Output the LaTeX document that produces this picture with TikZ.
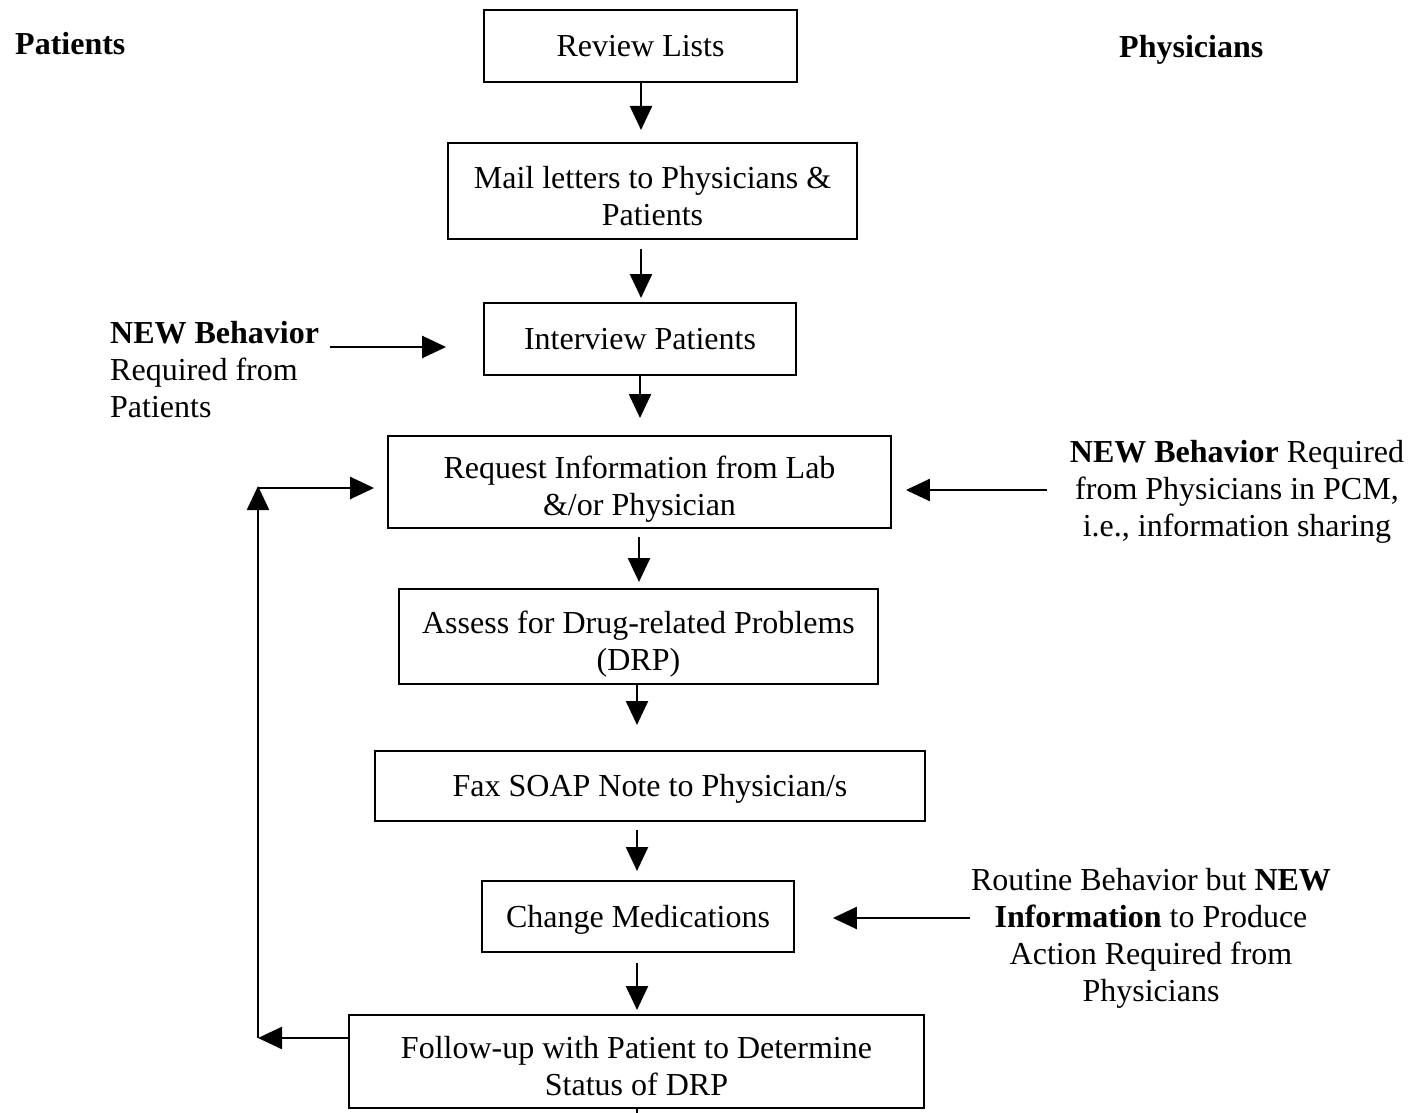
\documentclass[tikz,border=0pt]{standalone}
\usepackage{fontspec}
\setmainfont{Liberation Serif}
\usetikzlibrary{arrows.meta}
\begin{document}
\begin{tikzpicture}[x=1pt,y=-1pt,
  box/.style={draw, line width=1.8pt, inner sep=0pt},
  txt/.style={align=center, inner sep=0pt, font=\fontsize{32}{37}\selectfont},
  lbl/.style={inner sep=0pt, font=\fontsize{32}{37}\selectfont},
  arr/.style={line width=2.4pt, -{Triangle[length=24pt,width=22pt]}},
  ln/.style={line width=2.4pt}]
\useasboundingbox (0,0) rectangle (1414,1113);
% boxes
\node[box, minimum width=313pt, minimum height=72pt] (b1) at (640.5,46) {};
\node[box, minimum width=409pt, minimum height=96pt] (b2) at (652.5,191) {};
\node[box, minimum width=312pt, minimum height=72pt] (b3) at (640,339) {};
\node[box, minimum width=503pt, minimum height=92pt] (b4) at (639.5,482) {};
\node[box, minimum width=479pt, minimum height=95pt] (b5) at (638.5,636.5) {};
\node[box, minimum width=550pt, minimum height=70pt] (b6) at (650,786) {};
\node[box, minimum width=312pt, minimum height=71pt] (b7) at (638,916.5) {};
\node[box, minimum width=575pt, minimum height=93pt] (b8) at (636.5,1061.5) {};
% box texts
\node[txt] (t1) at ([yshift=0pt]b1.center) {Review Lists};
\node[txt] (t2) at ([yshift=-5pt]b2.center) {Mail letters to Physicians \&\\Patients};
\node[txt] (t3) at ([yshift=0pt]b3.center) {Interview Patients};
\node[txt] (t4) at ([yshift=-7pt]b4.center) {Request Information from Lab\\\&/or Physician};
\node[txt] (t5) at ([yshift=-8pt]b5.center) {Assess for Drug-related Problems\\(DRP)};
\node[txt] (t6) at ([yshift=-3pt]b6.center) {Fax SOAP Note to Physician/s};
\node[txt] (t7) at ([yshift=-3pt]b7.center) {Change Medications};
\node[txt] (t8) at ([yshift=-5pt]b8.center) {Follow-up with Patient to Determine\\Status of DRP};
% titles
\node[lbl, anchor=west, font=\fontsize{32}{37}\selectfont\bfseries] (tpat) at (15,44) {Patients};
\node[lbl, anchor=west, font=\fontsize{32}{37}\selectfont\bfseries] (tphy) at (1119,50) {Physicians};
% side labels
\node[lbl, anchor=north west, align=left] (lpat) at (110,321) {\textbf{NEW Behavior}\\Required from\\Patients};
\node[lbl, align=center] (lphy) at (1237,492) {\textbf{NEW Behavior} Required\\from Physicians in PCM,\\i.e., information sharing};
\node[lbl, align=center] (lrout) at (1151,938) {Routine Behavior but \textbf{NEW}\\\textbf{Information} to Produce\\Action Required from\\Physicians};
% vertical arrows
\draw[arr, shorten <=1pt, shorten >=13pt] (641,82) -- (641,143);
\draw[arr, shorten <=10pt, shorten >=5pt] (641,239) -- (641,303);
\draw[arr, shorten >=18pt] (640,375) -- (640,436);
\draw[arr, shorten <=9pt, shorten >=7pt] (639,528) -- (639,589);
\draw[arr, shorten >=26pt] (637,684) -- (637,751);
\draw[arr, shorten <=9pt, shorten >=10pt] (637,821) -- (637,881);
\draw[arr, shorten <=11pt, shorten >=5pt] (637,952) -- (637,1015);
\coordinate (stub) at (637,1113);
\draw[ln] (b8.south -| stub) -- (stub);
% side arrows
\coordinate (a1s) at (330,347);
\draw[arr, shorten >=37pt] (a1s) -- (b3.west |- a1s);
\coordinate (a2s) at (1047,490);
\draw[arr, shorten >=14pt] (a2s) -- (b4.east |- a2s);
\coordinate (a3s) at (970,918);
\draw[arr, shorten >=38pt] (a3s) -- (b7.east |- a3s);
% loop
\coordinate (lc1) at (258,1038);
\coordinate (lc2) at (258,486);
\coordinate (lc3) at (258,488);
\draw[arr] (b8.west |- lc1) -- (lc1);
\draw[arr] (lc1) -- (lc2);
\draw[arr, shorten >=13pt] (lc3) -- (b4.west |- lc3);
\end{tikzpicture}
\end{document}
